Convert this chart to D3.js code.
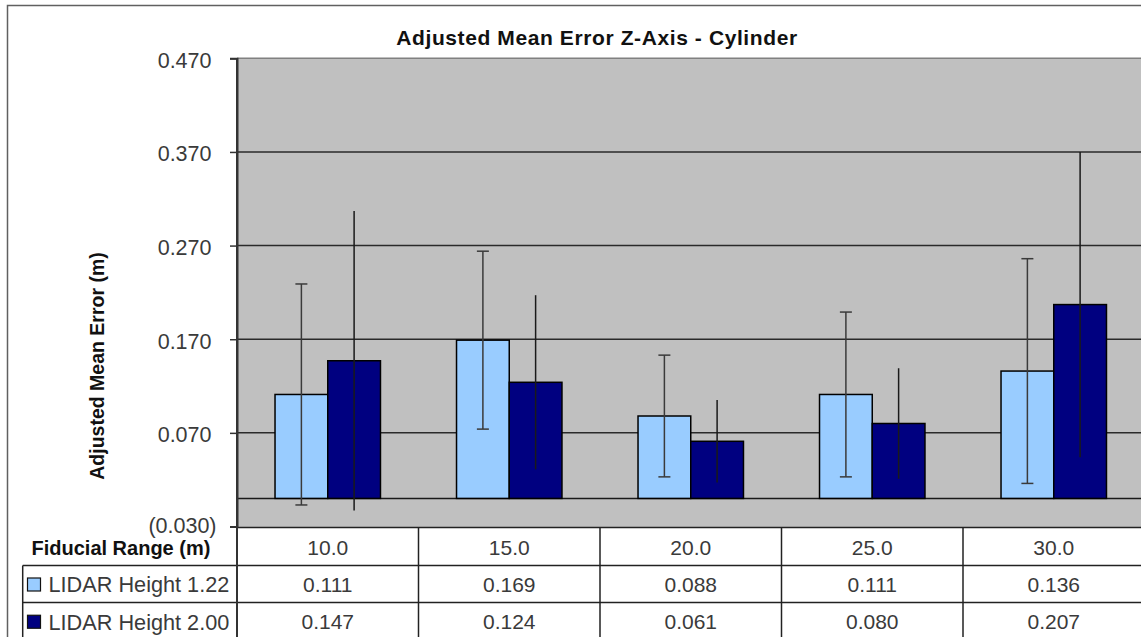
<!DOCTYPE html>
<html>
<head>
<meta charset="utf-8">
<script src="https://cdn.jsdelivr.net/npm/d3@7"></script>
<style>
  html, body { margin: 0; padding: 0; background: #fff; }
  svg { display: block; font-family: "Liberation Sans", Arial, sans-serif; }
</style>
</head>
<body>
<svg id="chart" width="1141" height="637"></svg>
<script>
// ---- data ----
const categories = ["10.0", "15.0", "20.0", "25.0", "30.0"];
const seriesNames = ["LIDAR Height 1.22", "LIDAR Height 2.00"];
const height122 = [0.111, 0.169, 0.088, 0.111, 0.136];
const height200 = [0.147, 0.124, 0.061, 0.080, 0.207];
const error122 = [0.118, 0.095, 0.065, 0.088, 0.120];
const error200 = [0.160, 0.093, 0.044, 0.059, 0.163];
const yTickValues = [-0.03, 0.07, 0.17, 0.27, 0.37, 0.47];
const chartTitle = "Adjusted Mean Error Z-Axis - Cylinder";
const yAxisTitle = "Adjusted Mean Error (m)";
const tableHeader = "Fiducial Range (m)";

const seriesValues = [height122, height200];
const seriesErrors = [error122, error200];
const seriesColors = ["#99CCFF", "#000080"];

// ---- layout ----
const svg = d3.select("#chart");
const plotLeft = 237, plotRight = 1144.5, plotTop = 58.3, plotBottom = 526.5;
const rowLines = [527.5, 565.5, 602.5, 640];
const tableLeft = 22.7;

const x0 = d3.scaleBand().domain(categories).range([plotLeft, plotRight]).paddingInner(0).paddingOuter(0);
const gap = x0.bandwidth() * 0.2095;
const x1 = d3.scaleBand().domain(seriesNames).range([gap, x0.bandwidth() - gap]);
const y = d3.scaleLinear().domain([-0.03, 0.47]).range([plotBottom, plotTop]);

const fmt = d3.format(".3f");
const tickFmt = v => v < 0 ? "(" + fmt(-v) + ")" : fmt(v);

// outer chart border
svg.append("rect").attr("x", 7.5).attr("y", 5.5).attr("width", 1300).attr("height", 800)
  .attr("fill", "#fff").attr("stroke", "#606060").attr("stroke-width", 1.5);

// title
svg.append("text").attr("x", 597).attr("y", 45).attr("text-anchor", "middle")
  .attr("font-weight", "bold").attr("font-size", "21px").attr("letter-spacing", "0.6px")
  .attr("fill", "#111")
  .text(chartTitle);

// plot area
svg.append("rect").attr("x", plotLeft).attr("y", plotTop)
  .attr("width", plotRight - plotLeft).attr("height", y(-0.03) - plotTop + 1)
  .attr("fill", "#C0C0C0");
svg.append("line").attr("x1", plotLeft).attr("x2", plotRight)
  .attr("y1", plotTop).attr("y2", plotTop)
  .attr("stroke", "#808080").attr("stroke-width", 1.5);

// gridlines
svg.append("g").selectAll("line")
  .data(yTickValues.filter(v => v > -0.03 && v < 0.47))
  .join("line")
  .attr("x1", plotLeft).attr("x2", plotRight)
  .attr("y1", d => y(d)).attr("y2", d => y(d))
  .attr("stroke", "#2a2a2a").attr("stroke-width", 1.5);

// zero (category axis) line
svg.append("line").attr("x1", plotLeft).attr("x2", plotRight)
  .attr("y1", y(0)).attr("y2", y(0))
  .attr("stroke", "#1a1a1a").attr("stroke-width", 1.5);

// y axis
const yAxis = d3.axisLeft(y).tickValues(yTickValues).tickFormat(tickFmt).tickSize(7).tickPadding(0);
const yg = svg.append("g").attr("transform", `translate(${plotLeft},0)`).call(yAxis);
yg.select(".domain").attr("stroke", "#333").attr("stroke-width", 2);
yg.selectAll(".tick line").attr("stroke", "#333").attr("stroke-width", 1.5);
yg.selectAll(".tick text")
  .attr("x", d => d < 0 ? -20.5 : -25.5)
  .attr("dy", d => d < 0 ? "0.3em" : "0.42em")
  .attr("font-size", "21.5px").attr("fill", "#3a3a3a")
  .attr("font-family", "'Liberation Sans', Arial, sans-serif");

// y axis title
svg.append("text")
  .attr("transform", "translate(103.5,366) rotate(-90)")
  .attr("text-anchor", "middle").attr("font-weight", "bold")
  .attr("font-size", "19.5px").attr("fill", "#111")
  .text(yAxisTitle);

// bars
const groups = svg.append("g").selectAll("g")
  .data(categories)
  .join("g")
  .attr("transform", d => `translate(${x0(d)},0)`);

groups.selectAll("rect")
  .data((c, i) => seriesNames.map((s, k) => ({ s, k, v: seriesValues[k][i] })))
  .join("rect")
  .attr("x", d => x1(d.s))
  .attr("width", x1.bandwidth())
  .attr("y", d => y(Math.max(0, d.v)))
  .attr("height", d => Math.abs(y(0) - y(d.v)))
  .attr("fill", d => seriesColors[d.k])
  .attr("stroke", "#000").attr("stroke-width", 1.5);

// error bars
const errData = [];
categories.forEach((c, i) => seriesNames.forEach((s, k) => {
  errData.push({ c, s, k, v: seriesValues[k][i], e: seriesErrors[k][i] });
}));
const eg = svg.append("g");
eg.selectAll("line.err").data(errData).join("line")
  .attr("class", "err")
  .attr("x1", d => x0(d.c) + x1(d.s) + x1.bandwidth() / 2)
  .attr("x2", d => x0(d.c) + x1(d.s) + x1.bandwidth() / 2)
  .attr("y1", d => y(d.v + d.e)).attr("y2", d => y(d.v - d.e))
  .attr("stroke", d => d.k === 0 ? "#3a3a3a" : "#1a1a1a").attr("stroke-width", 1.5);
const capData = [];
errData.filter(d => d.k === 0).forEach(d => {
  capData.push({ ...d, yv: d.v + d.e });
  capData.push({ ...d, yv: d.v - d.e });
});
eg.selectAll("line.cap").data(capData).join("line")
  .attr("class", "cap")
  .attr("x1", d => x0(d.c) + x1(d.s) + x1.bandwidth() / 2 - 6)
  .attr("x2", d => x0(d.c) + x1(d.s) + x1.bandwidth() / 2 + 6)
  .attr("y1", d => y(d.yv)).attr("y2", d => y(d.yv))
  .attr("stroke", "#3a3a3a").attr("stroke-width", 1.5);

// ---- data table ----
const tg = svg.append("g");
tg.append("rect").attr("x", plotLeft).attr("y", rowLines[0]).attr("width", plotRight - plotLeft)
  .attr("height", 200).attr("fill", "#fff");
tg.append("line").attr("x1", plotLeft).attr("x2", plotRight).attr("y1", rowLines[0]).attr("y2", rowLines[0])
  .attr("stroke", "#222").attr("stroke-width", 1.5);
tg.selectAll("line.h").data(rowLines.slice(1, 3)).join("line").attr("class", "h")
  .attr("x1", tableLeft).attr("x2", plotRight).attr("y1", d => d).attr("y2", d => d)
  .attr("stroke", "#222").attr("stroke-width", 1.5);
tg.selectAll("line.v").data(categories).join("line").attr("class", "v")
  .attr("x1", d => x0(d)).attr("x2", d => x0(d))
  .attr("y1", rowLines[0]).attr("y2", 640)
  .attr("stroke", "#222").attr("stroke-width", 1.5);
tg.append("line").attr("x1", tableLeft).attr("x2", tableLeft).attr("y1", rowLines[1]).attr("y2", 640)
  .attr("stroke", "#222").attr("stroke-width", 1.5);
svg.append("line").attr("x1", plotLeft).attr("x2", plotLeft).attr("y1", plotTop).attr("y2", 640)
  .attr("stroke", "#333").attr("stroke-width", 2);

const rowCenter = i => (rowLines[i] + rowLines[i + 1]) / 2;

// header row
tg.append("text").attr("x", 31.5).attr("y", rowCenter(0) + 1.5).attr("dy", "0.36em")
  .attr("font-weight", "bold").attr("font-size", "20px").attr("fill", "#111")
  .text(tableHeader);
tg.selectAll("text.cat").data(categories).join("text").attr("class", "cat")
  .attr("x", d => x0(d) + x0.bandwidth() / 2).attr("y", rowCenter(0) + 1).attr("dy", "0.36em")
  .attr("text-anchor", "middle").attr("font-size", "21px").attr("fill", "#3a3a3a")
  .text(d => d);

// series rows
seriesNames.forEach((s, k) => {
  const cy = rowCenter(k + 1) + (k === 1 ? 0.5 : 0.5);
  tg.append("rect").attr("x", 27.5).attr("y", cy - 6.5).attr("width", 13).attr("height", 13)
    .attr("fill", seriesColors[k]).attr("stroke", "#111").attr("stroke-width", 1.2);
  tg.append("text").attr("x", 48.5).attr("y", cy).attr("dy", "0.36em")
    .attr("font-size", "21.7px").attr("fill", "#3a3a3a").text(s);
  tg.selectAll("text.val" + k).data(categories).join("text").attr("class", "val" + k)
    .attr("x", d => x0(d) + x0.bandwidth() / 2).attr("y", cy).attr("dy", "0.36em")
    .attr("text-anchor", "middle").attr("font-size", "21px").attr("fill", "#3a3a3a")
    .text((d, i) => fmt(seriesValues[k][i]));
});
</script>
</body>
</html>
